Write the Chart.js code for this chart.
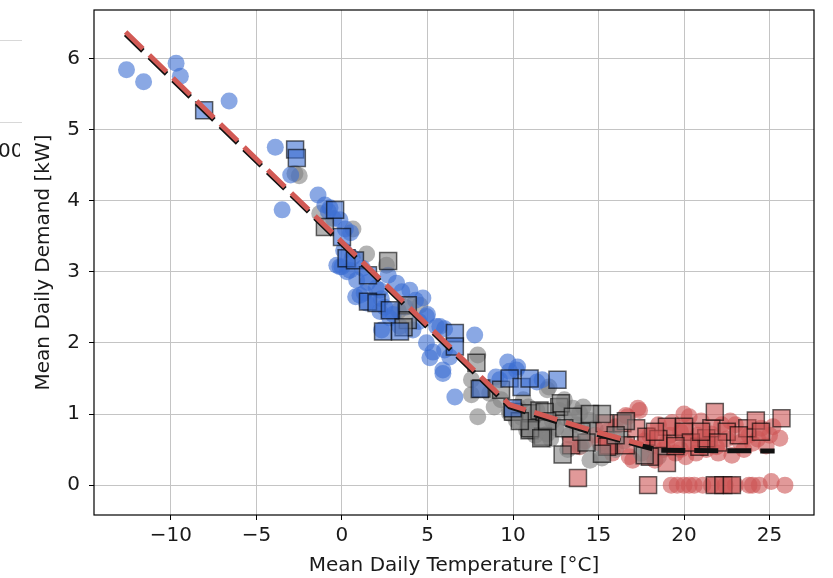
<!DOCTYPE html>
<html>
<head>
<meta charset="utf-8">
<script src="https://cdn.jsdelivr.net/npm/chart.js@4/dist/chart.umd.min.js"></script>
<style>
html,body{margin:0;padding:0;background:#fff;}
#wrap{width:833px;height:578px;position:relative;}
</style>
</head>
<body>
<div id="wrap"><canvas id="c" width="833" height="578"></canvas></div>
<script>
// ---- data ----
const xTicks = [-10, -5, 0, 5, 10, 15, 20, 25];
const yTicks = [0, 1, 2, 3, 4, 5, 6];

const blueCircleX = [-12.6,-11.6,-9.7,-9.45,-6.6,-3.9,-3.5,-3.0,-1.4,-1.0,-0.8,-0.5,-0.12,0.2,-0.7,0.5,
  -0.3,0.0,0.3,0.47,0.86,1.05,0.8,1.3,1.44,2.0,2.22,2.3,2.5,2.22,2.32,2.8,3.19,3.5,3.97,4.3,4.73,4.15,4.5,4.94,
  4.94,5.14,5.32,5.53,5.72,5.9,5.9,6.0,6.3,6.6,7.76,9.0,9.22,9.69,9.8,10.2,10.27,11.4,11.7,5.0,3.0,1.5,0.6,1.2,
  2.7,3.7,3.39,6.0,-0.12,0.1];
const blueCircleY = [5.84,5.67,5.93,5.75,5.40,4.75,3.87,4.36,4.08,3.94,3.85,3.75,3.73,3.6,3.9,3.55,
  3.09,3.07,3.0,3.02,2.88,2.67,2.65,2.7,2.56,2.77,2.74,2.62,2.5,2.44,2.18,2.35,2.84,2.72,2.74,2.6,2.63,2.18,2.3,2.0,
  2.37,1.79,1.87,2.23,2.23,1.62,1.57,1.9,1.8,1.24,2.11,1.52,1.48,1.73,1.6,1.62,1.66,1.45,1.48,2.4,2.4,2.85,3.2,3.05,
  2.95,2.5,2.23,2.2,3.07,3.3];

const greyCircleX = [-2.75,-2.5,-1.3,0.64,1.44,2.6,4.55,3.3,7.94,7.57,7.57,7.94,8.64,9.8,9.8,10.2,10.6,10.8,11.4,12.0,
  12.1,12.7,13.5,13.9,14.1,14.5,14.5,15.2,11.0,11.8,12.5,13.0,10.3,9.3,8.9,11.3,12.2,13.3,14.0,16.0,15.5,16.5,17.5,
  18.5,13.0,10.5,11.2,12.3,13.7,14.8,12.0,10.9,15.8,13.2];
const greyCircleY = [4.38,4.35,3.82,3.6,3.25,3.09,2.53,2.45,1.83,1.48,1.27,0.96,1.29,1.01,1.05,0.91,1.2,0.77,1.05,1.34,
  1.38,1.05,1.08,1.01,1.1,0.91,0.35,0.38,0.9,0.85,0.8,0.95,1.1,1.2,1.1,0.7,0.65,0.7,0.55,0.5,0.75,0.62,0.45,
  0.4,1.2,0.95,0.95,0.9,0.85,0.8,0.72,1.1,0.6,0.5];

const redCircleX = [13.9,14.2,15.1,16.0,16.7,17.4,17.3,16.8,17.0,16.6,18.0,18.5,19.0,19.5,20.1,20.3,20.0,20.8,21.3,21.9,
  22.2,22.8,23.3,23.8,24.0,24.5,25.2,25.6,18.8,19.8,21.0,22.5,24.8,15.8,18.3,20.5,23.0,21.6,17.7,19.3,14.8,
  18.2,19.2,20.7,21.5,22.0,23.5,24.3,25.0,22.7,19.8,
  19.25,19.6,20.0,20.3,20.6,21.1,21.6,22.4,23.0,23.8,24.0,24.4,25.1,25.9];
const redCircleY = [0.54,0.62,0.59,0.82,0.96,1.05,1.08,0.4,0.35,0.98,0.7,0.85,0.6,0.45,0.4,0.96,1.0,0.7,0.5,0.54,
  0.85,0.42,0.6,0.7,0.59,0.8,0.82,0.66,0.5,0.75,0.9,0.65,0.55,0.45,0.35,0.6,0.85,0.72,0.62,0.88,0.7,
  0.55,0.7,0.45,0.6,0.45,0.5,0.65,0.7,0.9,0.5,
  0.0,0.0,0.0,0.0,0.0,0.0,0.0,0.0,0.0,0.0,0.0,0.0,0.05,0.0];

const blueSquareX = [-8.06,-2.74,-2.64,-0.4,0.0,0.27,0.76,1.52,1.52,2.02,2.8,2.4,3.39,6.6,6.6,8.06,9.8,10.5,10.97,12.6,9.98];
const blueSquareY = [5.27,4.72,4.6,3.87,3.49,3.19,3.16,2.95,2.58,2.56,2.46,2.16,2.16,2.14,1.95,1.35,1.5,1.38,1.5,1.48,1.08];

const greySquareX = [-1.0,2.7,3.85,3.85,3.6,7.86,8.15,9.3,10.0,11.06,11.55,10.97,11.75,12.7,12.8,13.5,12.9,15.2,15.2,
  16.6,11.0,11.65,11.85,17.7,14.3,12.0,13.0,14.5,14.0,16.0,10.4];
const greySquareY = [3.63,3.15,2.53,2.32,2.22,1.72,1.36,1.34,1.03,1.01,1.05,0.77,0.68,1.1,1.15,0.96,0.43,1.0,0.44,
  0.9,0.8,0.66,1.03,0.42,0.6,0.9,0.8,1.0,0.75,0.7,0.9];

const redSquareX = [13.8,13.4,15.6,16.6,16.4,15.35,15.5,17.2,17.8,18.0,17.9,19.0,19.0,20.0,20.0,20.9,21.3,21.6,21.8,
  22.5,23.7,24.2,25.7,21.8,22.3,22.8,20.4,18.5,23.2,18.3,19.5,21.0,22.0,24.5];
const redSquareY = [0.1,0.56,0.56,0.56,0.87,0.87,0.54,0.8,0.68,0.4,0.0,0.82,0.31,0.82,0.75,0.54,0.66,0.8,1.03,
  0.75,0.8,0.91,0.94,0.0,0.0,0.0,0.6,0.65,0.7,0.75,0.55,0.75,0.6,0.75];

const blackLineX = [-12.65, 9.8, 15.0, 18.5, 25.3];
const blackLineY = [6.34, 1.10, 0.71, 0.49, 0.48];
const redLineX = [-12.65, 9.8, 15.0, 17.6];
const redLineY = [6.37, 1.13, 0.74, 0.57];

// ---- helpers ----
const pts = (xs, ys) => xs.map((x, i) => ({x: x, y: ys[i]}));
const BLUE = 'rgba(60,110,210,0.6)';
const GREY = 'rgba(128,128,128,0.6)';
const RED  = 'rgba(205,85,85,0.6)';
const EDGE = 'rgba(0,0,0,0.6)';
const FONT = '"DejaVu Sans", sans-serif';
const fmt = v => (v < 0 ? '\u2212' + Math.abs(v) : String(v));

function circles(xs, ys, col, ord) {
  return {type: 'scatter', order: ord, data: pts(xs, ys), pointStyle: 'circle', pointRadius: 8.5,
    backgroundColor: col, borderWidth: 0, pointHoverRadius: 8.5};
}
function squares(xs, ys, col, ord) {
  return {type: 'scatter', order: ord, data: pts(xs, ys), pointStyle: 'rect', pointRadius: 12,
    backgroundColor: col, borderColor: EDGE, borderWidth: 1.5, pointHoverRadius: 12};
}
function line(xs, ys, col, w, dash, ord) {
  return {type: 'line', order: ord, data: pts(xs, ys), borderColor: col, borderWidth: w, borderDash: dash,
    pointRadius: 0, fill: false, tension: 0, borderCapStyle: 'butt'};
}

const decor = {
  id: 'decor',
  afterDraw(chart) {
    const ctx = chart.ctx, a = chart.chartArea;
    ctx.save();
    ctx.strokeStyle = '#000';
    ctx.lineWidth = 1.2;
    ctx.strokeRect(a.left, a.top, a.right - a.left, a.bottom - a.top);
    ctx.fillStyle = '#1a1a1a';
    ctx.font = '20px ' + FONT;
    ctx.textAlign = 'center';
    ctx.textBaseline = 'alphabetic';
    ctx.fillText('Mean Daily Temperature [\u00B0C]', (a.left + a.right) / 2, 571);
    ctx.save();
    ctx.translate(49, (a.top + a.bottom) / 2);
    ctx.rotate(-Math.PI / 2);
    ctx.fillText('Mean Daily Demand [kW]', 0, 0);
    ctx.restore();
    // cropped remnants at the left edge of the picture
    ctx.strokeStyle = '#d8d8d8';
    ctx.lineWidth = 1;
    ctx.beginPath();
    ctx.moveTo(0, 40.5); ctx.lineTo(22, 40.5);
    ctx.moveTo(0, 122.5); ctx.lineTo(22, 122.5);
    ctx.stroke();
    ctx.beginPath(); ctx.rect(0, 130, 20, 40); ctx.clip();
    ctx.textAlign = 'left';
    ctx.fillText('00', -2, 157);
    ctx.restore();
  }
};

new Chart(document.getElementById('c'), {
  data: {
    datasets: [
      line(redLineX, redLineY, 'rgb(210,90,85)', 5, [24, 9], 0),
      line(blackLineX, blackLineY, '#111', 5, [24, 9], 1),
      squares(blueSquareX, blueSquareY, BLUE, 2),
      squares(greySquareX, greySquareY, GREY, 3),
      squares(redSquareX, redSquareY, RED, 4),
      circles(blueCircleX, blueCircleY, BLUE, 5),
      circles(greyCircleX, greyCircleY, GREY, 6),
      circles(redCircleX, redCircleY, RED, 7)
    ]
  },
  options: {
    responsive: false,
    animation: false,
    events: [],
    layout: {autoPadding: false, padding: {left: 0, right: 19, top: 10, bottom: 0}},
    plugins: {legend: {display: false}, tooltip: {enabled: false}},
    scales: {
      x: {
        type: 'linear', position: 'bottom', min: -14.5, max: 27.6,
        afterFit: s => { s.height = 63; s.paddingLeft = 0; s.paddingRight = 0; },
        afterBuildTicks: s => { s.ticks = xTicks.map(v => ({value: v})); },
        grid: {color: '#c4c4c4', lineWidth: 1, drawTicks: true, tickLength: 5, tickColor: '#000'},
        border: {display: false},
        ticks: {font: {family: FONT, size: 20}, color: '#1a1a1a', padding: 4, maxRotation: 0,
          callback: v => fmt(v)}
      },
      y: {
        type: 'linear', position: 'left', min: -0.42, max: 6.68,
        afterFit: s => { s.width = 94; s.paddingTop = 0; s.paddingBottom = 0; },
        afterBuildTicks: s => { s.ticks = yTicks.map(v => ({value: v})); },
        grid: {color: '#c4c4c4', lineWidth: 1, drawTicks: true, tickLength: 5, tickColor: '#000'},
        border: {display: false},
        ticks: {font: {family: FONT, size: 20}, color: '#1a1a1a', padding: 9,
          callback: v => fmt(v)}
      }
    }
  },
  plugins: [decor]
});
</script>
</body>
</html>
